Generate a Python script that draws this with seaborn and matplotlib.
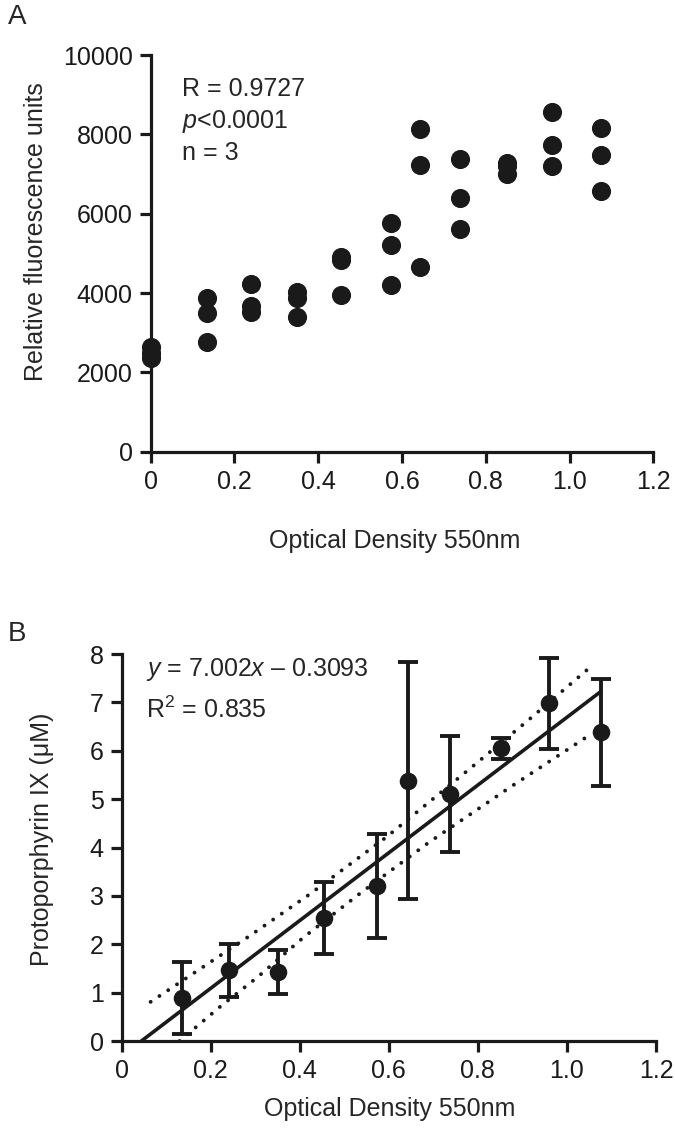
import numpy as np
import matplotlib
matplotlib.use("Agg")
import matplotlib.pyplot as plt
import seaborn as sns

# optical density of the samples (same for both panels)
od = [0.0, 0.135, 0.240, 0.350, 0.455, 0.574, 0.644, 0.738, 0.851, 0.959, 1.076]

# panel A: three replicates of relative fluorescence
rfu_rep1 = [2650, 3870, 4230, 4020, 4920, 5770, 8130, 7370, 7290, 8570, 8150]
rfu_rep2 = [2500, 3500, 3680, 3880, 4830, 5210, 7240, 6390, 7190, 7730, 7480]
rfu_rep3 = [2370, 2770, 3520, 3400, 3950, 4200, 4660, 5610, 6990, 7200, 6560]

# panel B: protoporphyrin IX mean and error
ppix_x = od[1:]
ppix_mean = [0.89, 1.46, 1.43, 2.54, 3.20, 5.38, 5.10, 6.05, 6.98, 6.38]
ppix_err = [0.75, 0.54, 0.46, 0.74, 1.07, 2.45, 1.20, 0.22, 0.94, 1.10]

# fitted line y = 7.002x - 0.3093 and its dotted confidence band
slope, intercept = 7.002, -0.3093
fit_x = [-intercept / slope, 1.077]
band_up_x = [0.065, 0.176, 0.29, 0.423, 0.595, 0.782, 0.909, 1.055]
band_up_y = [0.81, 1.49, 2.19, 3.04, 4.22, 5.63, 6.60, 7.75]
band_lo_x = [0.13, 0.221, 0.305, 0.408, 0.535, 0.689, 0.868, 1.050]
band_lo_y = [0.0, 0.71, 1.32, 2.14, 3.05, 4.10, 5.22, 6.32]

sns.set_style("ticks")
plt.rcParams["font.family"] = ["Liberation Sans", "DejaVu Sans"]
plt.rcParams["mathtext.fontset"] = "custom"
plt.rcParams["mathtext.rm"] = "Liberation Sans"
plt.rcParams["mathtext.it"] = "Liberation Sans:italic"

fs = 18
ink = "#1a1a1a"

fig = plt.figure(figsize=(6.75, 11.28), dpi=100)
axA = fig.add_axes([0.2233, 0.5996, 0.7446, 0.3516])
axB = fig.add_axes([0.1803, 0.0771, 0.7916, 0.3431])

# ---- panel A
xs = od * 3
ys = rfu_rep1 + rfu_rep2 + rfu_rep3
sns.scatterplot(x=xs, y=ys, ax=axA, color=ink, s=190, edgecolor=ink, linewidth=0,
                clip_on=False, zorder=3)
axA.set_xlim(0, 1.2)
axA.set_ylim(0, 10000)
axA.set_xticks([0, 0.2, 0.4, 0.6, 0.8, 1.0, 1.2])
axA.set_xticklabels(["0", "0.2", "0.4", "0.6", "0.8", "1.0", "1.2"])
axA.set_yticks(range(0, 10001, 2000))
axA.set_xlabel("Optical Density 550nm", fontsize=fs)
axA.set_ylabel("Relative fluorescence units", fontsize=fs)
axA.xaxis.set_label_coords(0.486, -0.195)
axA.yaxis.set_label_coords(-0.205, 0.555)
axA.text(0.062, 0.915, "R = 0.9727", transform=axA.transAxes, fontsize=fs, va="center")
axA.text(0.062, 0.832, "$p$<0.0001", transform=axA.transAxes, fontsize=fs, va="center")
axA.text(0.062, 0.753, "n = 3", transform=axA.transAxes, fontsize=fs, va="center")

# ---- panel B
axB.errorbar(ppix_x, ppix_mean, yerr=ppix_err, fmt="none", ecolor=ink, elinewidth=2.8,
             capsize=7.5, capthick=2.8, zorder=2)
sns.scatterplot(x=ppix_x, y=ppix_mean, ax=axB, color=ink, s=160, edgecolor=ink,
                linewidth=0, zorder=3)
fit_y = [slope * v + intercept for v in fit_x]
sns.lineplot(x=fit_x, y=fit_y, ax=axB, color=ink, linewidth=2.6, zorder=2)
for bx, by in [(band_up_x, band_up_y), (band_lo_x, band_lo_y)]:
    axB.plot(bx, by, color=ink, linewidth=2.8, linestyle=(0, (0.01, 2.7)),
             dash_capstyle="round", zorder=2)
axB.set_xlim(0, 1.2)
axB.set_ylim(0, 8)
axB.set_xticks([0, 0.2, 0.4, 0.6, 0.8, 1.0, 1.2])
axB.set_xticklabels(["0", "0.2", "0.4", "0.6", "0.8", "1.0", "1.2"])
axB.set_yticks(range(0, 9))
axB.set_xlabel("Optical Density 550nm", fontsize=fs)
axB.set_ylabel("Protoporphyrin IX (\u03bcM)", fontsize=fs)
axB.xaxis.set_label_coords(0.502, -0.145)
axB.yaxis.set_label_coords(-0.127, 0.52)
axB.text(0.045, 0.959, "$y$ = 7.002$x$ \u2013 0.3093", transform=axB.transAxes,
         fontsize=fs, va="center")
axB.text(0.045, 0.855, "R$^2$ = 0.835", transform=axB.transAxes, fontsize=fs, va="center")

for ax in (axA, axB):
    sns.despine(ax=ax)
    for side in ("left", "bottom"):
        ax.spines[side].set_linewidth(2.3)
        ax.spines[side].set_color(ink)
    ax.tick_params(length=8, width=2.3, color=ink, labelsize=fs, pad=5, labelcolor=ink)

fig.text(0.012, 0.985, "A", fontsize=20, va="center")
fig.text(0.012, 0.438, "B", fontsize=20, va="center")

fig.savefig("out.png", dpi=100)
